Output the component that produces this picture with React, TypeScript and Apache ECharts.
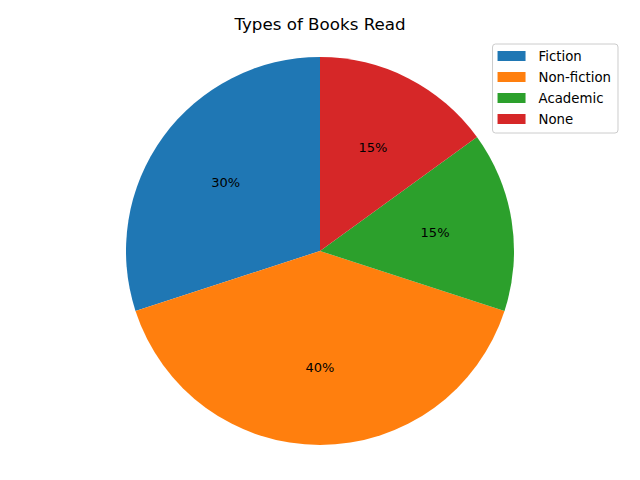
import React, { useEffect, useRef } from "react";
import * as echarts from "echarts";

const categories = ["Fiction", "Non-fiction", "Academic", "None"];
const values = [30, 40, 15, 15];
const colors = ["#1f77b4", "#ff7f0e", "#2ca02c", "#d62728"];

export default function App() {
  const ref = useRef<HTMLDivElement>(null);
  useEffect(() => {
    const chart = echarts.init(ref.current!, null, { renderer: "svg" });
    const data = categories.map((c, i) => ({ name: c, value: values[i], itemStyle: { color: colors[i] } }));
    const R = 194;
    chart.setOption({
      animation: false,
      textStyle: { fontFamily: "DejaVu Sans" },
      title: {
        text: "Types of Books Read",
        left: "center",
        top: 10,
        textStyle: { fontFamily: "DejaVu Sans", fontSize: 16.7, fontWeight: "normal", color: "#000" },
      },
      legend: {
        orient: "vertical",
        right: 22,
        top: 44,
        data: categories,
        icon: "rect",
        itemWidth: 28,
        itemHeight: 10,
        itemGap: 7,
        padding: [5, 7, 7, 5],
        borderColor: "#cccccc",
        borderWidth: 1,
        borderRadius: 3,
        backgroundColor: "rgba(255,255,255,0.8)",
        textStyle: { fontFamily: "DejaVu Sans", fontSize: 13.3, color: "#000", padding: [0, 0, 0, 8], lineHeight: 14 },
      },
      series: [
        {
          type: "pie",
          center: [320, 251],
          radius: [0, R],
          startAngle: 90,
          clockwise: false,
          data,
          label: { show: false },
          labelLine: { show: false },
          emphasis: { disabled: true },
        },
        {
          type: "pie",
          center: [320, 251],
          radius: [0, R * 1.17],
          startAngle: 90,
          clockwise: false,
          silent: true,
          z: 5,
          data: categories.map((c, i) => ({ name: c, value: values[i], itemStyle: { color: "transparent" } })),
          itemStyle: { color: "transparent", borderWidth: 0 },
          label: {
            show: true,
            position: "inside",
            formatter: (p: any) => `${Math.round(p.percent)}%`,
            fontFamily: "DejaVu Sans",
            fontSize: 13,
            color: "#000",
          },
          labelLine: { show: false },
          emphasis: { disabled: true },
        },
      ],
    });
    return () => chart.dispose();
  }, []);
  return <div ref={ref} style={{ width: 640, height: 480, position: "absolute", left: 0, top: 0 }} />;
}
